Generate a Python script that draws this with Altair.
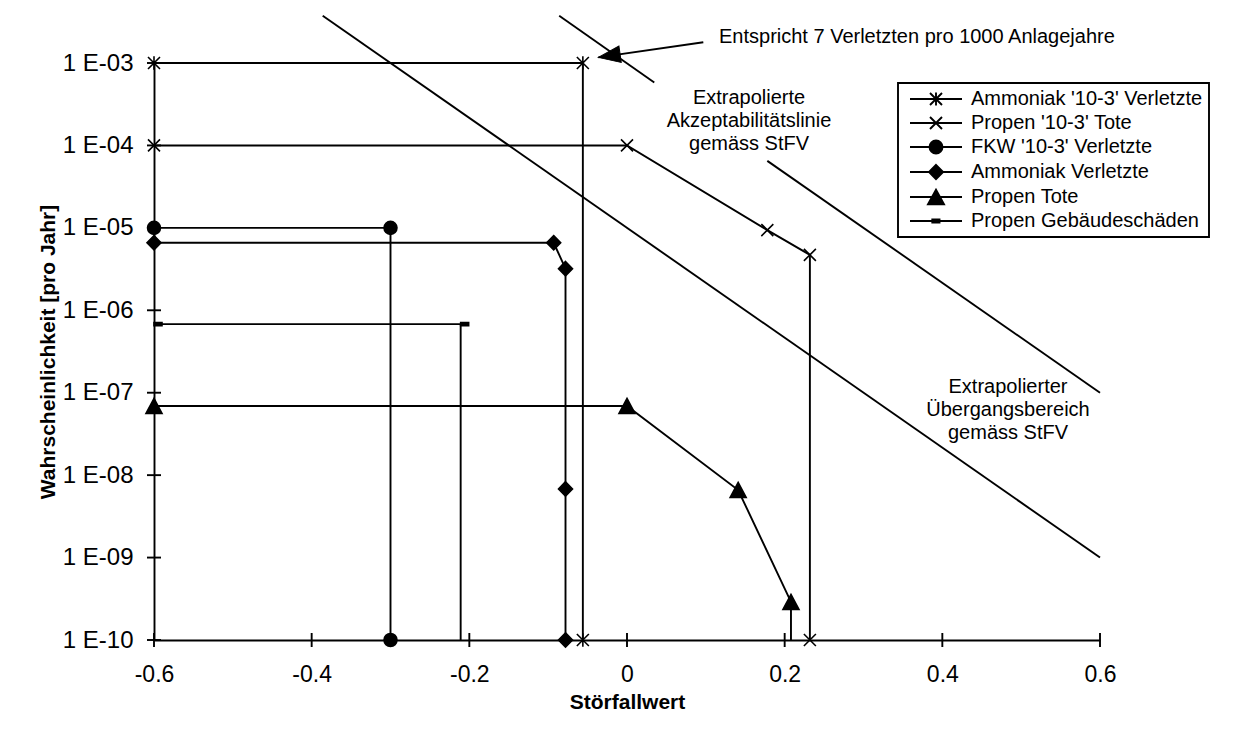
import altair as alt
import pandas as pd

# ---------------- data ----------------
series_names = [
    "Ammoniak '10-3' Verletzte",
    "Propen '10-3' Tote",
    "FKW '10-3' Verletzte",
    "Ammoniak Verletzte",
    "Propen Tote",
    "Propen Gebäudeschäden",
]

ammoniak_103_x = [-0.6, -0.056, -0.056]
ammoniak_103_y = [1e-3, 1e-3, 1e-10]

propen_103_x = [-0.6, 0.0, 0.178, 0.232, 0.232]
propen_103_y = [1e-4, 1e-4, 9.4e-6, 4.7e-6, 1e-10]

fkw_103_x = [-0.6, -0.3, -0.3]
fkw_103_y = [1e-5, 1e-5, 1e-10]

ammoniak_x = [-0.6, -0.093, -0.078, -0.078, -0.078]
ammoniak_y = [6.6e-6, 6.6e-6, 3.2e-6, 6.8e-9, 1e-10]

propen_tote_x = [-0.6, 0.0, 0.141, 0.208, 0.208]
propen_tote_y = [6.9e-8, 6.9e-8, 6.6e-9, 2.9e-10, 1e-10]
propen_tote_marker = [True, True, True, True, False]

propen_geb_x = [-0.6, -0.211, -0.211]
propen_geb_y = [6.8e-7, 6.8e-7, 1e-10]
propen_geb_marker = [True, True, False]

# extrapolated StFV criteria lines (two segments for the upper one, gap at its label)
crit_seg = ["mid", "mid", "up1", "up1", "up2", "up2"]
crit_x = [-0.386, 0.6, -0.086, 0.0346, 0.178, 0.6]
crit_y = [3.75e-3, 1e-9, 3.75e-3, 5.8e-4, 6.5e-5, 1e-7]

# arrow: tail near the note, tip near the line
arrow_x = [0.0968]
arrow_y = [1.78e-3]
arrow_x2 = [-0.0364]
arrow_y2 = [1.17e-3]

x_ticks = [-0.6, -0.4, -0.2, 0.0, 0.2, 0.4, 0.6]
x_tick_labels = ["-0.6", "-0.4", "-0.2", "0", "0.2", "0.4", "0.6"]
y_ticks = [1e-3, 1e-4, 1e-5, 1e-6, 1e-7, 1e-8, 1e-9, 1e-10]
y_tick_labels = ["1 E-03", "1 E-04", "1 E-05", "1 E-06", "1 E-07", "1 E-08", "1 E-09", "1 E-10"]

note_text = ["Entspricht 7 Verletzten pro 1000 Anlagejahre"]
note_x = [0.1167]
note_y = [1.73e-3]

label_texts = [
    ["Extrapolierte", "Akzeptabilitätslinie", "gemäss StFV"],
    ["Extrapolierter", "Übergangsbereich", "gemäss StFV"],
]
label_x = [0.1548, 0.4833]
label_y = [3.19e-4, 1.0e-7]

# ---------------- tables ----------------
rows = []
def add(name, xs, ys, marks=None):
    marks = marks or [True] * len(xs)
    for i, (x, y, m) in enumerate(zip(xs, ys, marks)):
        rows.append(dict(series=name, idx=i, x=x, y=y, marker=m))

add(series_names[0], ammoniak_103_x, ammoniak_103_y)
add(series_names[1], propen_103_x, propen_103_y)
add(series_names[2], fkw_103_x, fkw_103_y)
add(series_names[3], ammoniak_x, ammoniak_y)
add(series_names[4], propen_tote_x, propen_tote_y, propen_tote_marker)
add(series_names[5], propen_geb_x, propen_geb_y, propen_geb_marker)
df = pd.DataFrame(rows)
df_first = df[df.idx == 0]

df_crit = pd.DataFrame({"seg": crit_seg, "x": crit_x, "y": crit_y})
df_arrow = pd.DataFrame({"x": arrow_x, "y": arrow_y, "x2": arrow_x2, "y2": arrow_y2})
df_tip = pd.DataFrame({"x": arrow_x2, "y": arrow_y2})
df_note = pd.DataFrame({"x": note_x, "y": note_y, "t": note_text})
df_lab = pd.DataFrame({"x": label_x, "y": label_y, "t": label_texts})
df_ytick = pd.DataFrame({"x": [x_ticks[0]] * len(y_ticks), "y": y_ticks})
df_xtick = pd.DataFrame({"x": x_ticks, "y": [y_ticks[-1]] * len(x_ticks)})

# ---------------- styling ----------------
FONT = "Liberation Sans"
LW = 1.9

marker_paths = [
    "M-0.75,-0.75L0.75,0.75M-0.75,0.75L0.75,-0.75M0,-0.85L0,0.85",
    "M-0.75,-0.75L0.75,0.75M-0.75,0.75L0.75,-0.75",
    "M-0.81,0A0.81,0.81 0 1,0 0.81,0A0.81,0.81 0 1,0 -0.81,0Z",
    "M0,-0.9L0.875,0L0,0.9L-0.875,0Z",
    "M0,-0.94L1,0.94L-1,0.94Z",
    "M0,-0.19L1,-0.19L1,0.19L0,0.19Z",
]
LINE = "M-7.667,0L1,0"
legend_paths = [
    LINE + "M-4.333,-1L-2.333,1M-4.333,1L-2.333,-1M-3.333,-1.1L-3.333,1.1",
    LINE + "M-4.333,-1L-2.333,1M-4.333,1L-2.333,-1",
    LINE + "M-4.416,0A1.083,1.083 0 1,0 -2.25,0A1.083,1.083 0 1,0 -4.416,0Z",
    LINE + "M-3.333,-1.2L-2.15,0L-3.333,1.2L-4.5,0Z",
    LINE + "M-3.333,-1.2L-2.0,1.2L-4.667,1.2Z",
    LINE + "M-3.95,-0.25L-2.75,-0.25L-2.75,0.25L-3.95,0.25Z",
]

xscale = alt.Scale(domain=[-0.6, 0.6], nice=False, zero=False)
yscale = alt.Scale(type="log", domain=[1e-10, 1e-3], nice=False)

x_lab_expr = "[" + ",".join("'%s'" % s for s in x_tick_labels) + "][round((datum.value + 0.6) / 0.2)]"
y_lab_expr = "[" + ",".join("'%s'" % s for s in y_tick_labels) + "][round(-log(datum.value) / LN10) - 3]"

xaxis = alt.Axis(values=x_ticks, labelExpr=x_lab_expr, ticks=False, grid=False,
                 domainColor="black", domainWidth=LW, labelFont=FONT, labelFontSize=23,
                 labelColor="black", labelPadding=23, labelFlush=False, labelOverlap=False,
                 title="Störfallwert", titleFont=FONT, titleFontSize=21, titleFontWeight="bold",
                 titleColor="black", titlePadding=5)
yaxis = alt.Axis(values=y_ticks, labelExpr=y_lab_expr, ticks=False, grid=False,
                 domainColor="black", domainWidth=LW, labelFont=FONT, labelFontSize=24,
                 labelColor="black", labelPadding=21, labelFlush=False, labelOverlap=False,
                 title="Wahrscheinlichkeit [pro Jahr]", titleFont=FONT, titleFontSize=21,
                 titleFontWeight="bold", titleColor="black", titlePadding=4)

X = alt.X("x:Q", scale=xscale, axis=xaxis)
Y = alt.Y("y:Q", scale=yscale, axis=yaxis)

crit = alt.Chart(df_crit).mark_line(color="black", strokeWidth=LW, clip=False).encode(
    x=X, y=Y, detail="seg:N")

arrow = alt.Chart(df_arrow).mark_rule(color="black", strokeWidth=2).encode(
    x=X, y=Y, x2="x2:Q", y2="y2:Q")
tip = alt.Chart(df_tip).mark_point(shape="M0,0L0.75,2L-0.75,2Z", size=484, angle=261.9,
                                    fill="black", stroke="black", strokeWidth=1, opacity=1).encode(x=X, y=Y)

lines = alt.Chart(df).mark_line(color="black", strokeWidth=LW).encode(
    x=X, y=Y, detail="series:N", order="idx:Q")

markers = alt.Chart(df).transform_filter("datum.marker").mark_point(
    size=256, fill="black", stroke="black", strokeWidth=1.6, opacity=1).encode(
    x=X, y=Y,
    shape=alt.Shape("series:N", scale=alt.Scale(domain=series_names, range=marker_paths), legend=None))

yt = alt.Chart(df_ytick).mark_tick(orient="horizontal", size=14, thickness=LW, color="black", opacity=1).encode(x=X, y=Y)
xt = alt.Chart(df_xtick).mark_tick(orient="vertical", size=14, thickness=LW, color="black", opacity=1).encode(x=X, y=Y)

note = alt.Chart(df_note).mark_text(align="left", baseline="alphabetic", font=FONT, fontSize=20,
                                    color="black").encode(x=X, y=Y, text="t:N")
labels = alt.Chart(df_lab).mark_text(align="center", baseline="alphabetic", font=FONT, fontSize=20,
                                     lineHeight=23, color="black").encode(x=X, y=Y, text="t")

legend_layer = alt.Chart(df_first).mark_point(
    size=144, fill="black", stroke="black", strokeWidth=LW, opacity=0).encode(
    x=X, y=Y,
    shape=alt.Shape("series:N", scale=alt.Scale(domain=series_names, range=legend_paths),
                    legend=alt.Legend(title=None, orient="none", legendX=744, legendY=20,
                                      direction="vertical", strokeColor="black", fillColor="white",
                                      padding=6, labelFont=FONT, labelFontSize=20, labelColor="black",
                                      labelLimit=400, labelOffset=5, symbolOffset=42, symbolSize=144,
                                      symbolStrokeWidth=LW, symbolOpacity=1, rowPadding=3)))

chart = alt.layer(crit, arrow, lines, markers, tip, yt, xt, note, labels, legend_layer).resolve_scale(
    shape="independent"
).properties(
    width=946, height=577,
    autosize=alt.AutoSizeParams(type="none"),
    padding={"left": 146, "top": 55, "right": 126, "bottom": 83},
).configure_view(strokeWidth=0).configure_legend(strokeWidth=LW)

chart.save("out.html", embed_options={"renderer": "svg", "actions": False})
